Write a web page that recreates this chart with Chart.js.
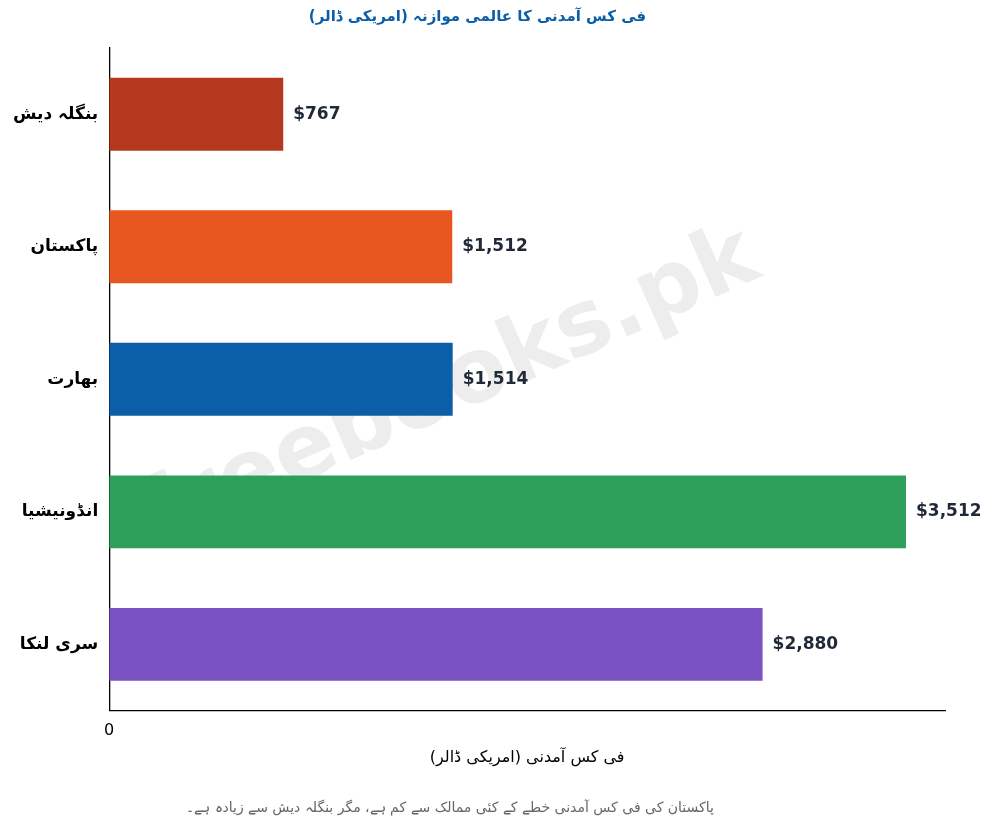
<!DOCTYPE html>
<html><head><meta charset="utf-8">
<script src="https://cdn.jsdelivr.net/npm/chart.js@4/dist/chart.umd.min.js"></script>
<style>html,body{margin:0;padding:0;background:#fff}#w{width:995px;height:831px}</style>
</head><body><div id="w"><canvas id="c"></canvas></div>
<script>
const categories = ["بنگلہ دیش","پاکستان","بھارت","انڈونیشیا","سری لنکا"];
const values = [767,1512,1514,3512,2880];
const valueLabels = ["$767","$1,512","$1,514","$3,512","$2,880"];
const colors = ["#B3381E","#E85720","#0A5FA8","#2E9F5B","#7B52C1"];
const titleText = "فی کس آمدنی کا عالمی موازنہ (امریکی ڈالر)";
const xTitle = "فی کس آمدنی (امریکی ڈالر)";
const footer = "پاکستان کی فی کس آمدنی خطے کے کئی ممالک سے کم ہے، مگر بنگلہ دیش سے زیادہ ہے۔";
const F = "'DejaVu Sans', sans-serif";

const overlay = {
  id:'overlay',
  beforeDatasetsDraw(ch){
    const c=ch.ctx; c.save();
    c.translate(450,390); c.rotate(-0.42);
    c.font="bold 90px "+F; c.fillStyle="rgba(0,0,0,0.07)";
    c.textAlign="center"; c.textBaseline="middle";
    c.fillText("freebooks.pk",0,0); c.restore();
  },
  afterDatasetsDraw(ch){
    const c=ch.ctx; c.save();
    c.font="bold 17px "+F; c.fillStyle="#1f2937"; c.textBaseline="middle";
    ch.getDatasetMeta(0).data.forEach((b,i)=>c.fillText(valueLabels[i],b.x+10,b.y));
    c.font="14px "+F; c.fillStyle="#666"; c.textAlign="center";
    c.fillText(footer,450,808);
    c.restore();
  }
};

new Chart(document.getElementById('c'),{
  type:'bar',
  data:{labels:categories,datasets:[{data:values,backgroundColor:colors,barPercentage:0.55,categoryPercentage:1}]},
  options:{
    indexAxis:'y',responsive:true,maintainAspectRatio:false,animation:false,
    layout:{padding:{left:10,right:50,top:0,bottom:60}},
    plugins:{legend:{display:false},tooltip:{enabled:false},
      title:{display:true,text:titleText,color:"#0A5FA8",font:{family:F,size:15,weight:'bold'},padding:{top:8,bottom:22}}},
    scales:{
      x:{min:0,max:3684,grid:{display:false},border:{color:'#000',width:1.3},
        afterBuildTicks(a){a.ticks=a.ticks.filter(t=>t.value%500===0);},
        ticks:{stepSize:500,color:'#000',font:{family:F,size:16}},
        title:{display:true,text:xTitle,color:'#000',font:{family:F,size:16}}},
      y:{grid:{display:false},border:{color:'#000',width:1.3},
        ticks:{color:'#000',font:{family:F,size:17,weight:'bold'}}}
    }
  },
  plugins:[overlay]
});
</script></body></html>
